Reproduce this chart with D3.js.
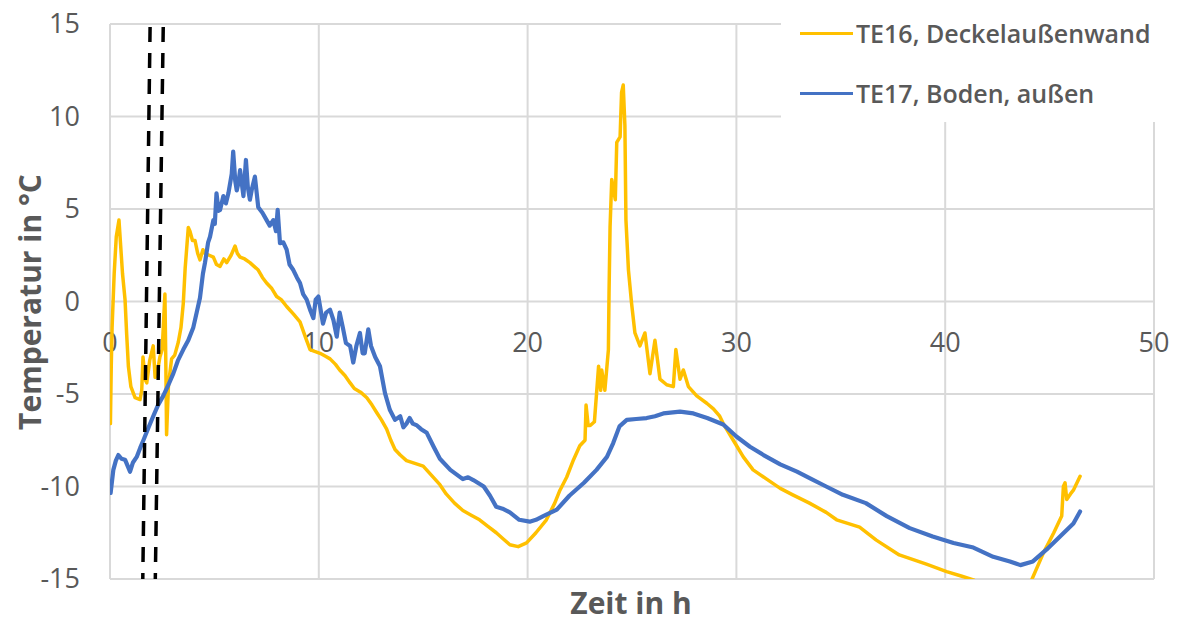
<!DOCTYPE html>
<html><head><meta charset="utf-8">
<script src="https://cdn.jsdelivr.net/npm/d3@7"></script>
<style>
html,body{margin:0;padding:0;background:#fff;}
svg{display:block;font-family:"Open Sans",sans-serif;}
</style></head>
<body><svg id="chart" width="1178" height="622"></svg>
<script>
// ---- data ----
const xTicks = [0, 10, 20, 30, 40, 50];
const yTicks = [-15, -10, -5, 0, 5, 10, 15];
const seriesNames = ["TE16, Deckelaußenwand", "TE17, Boden, außen"];

const te16Time = [0.02,0.06,0.1,0.2,0.3,0.43,0.5,0.6,0.72,0.8,0.88,1.0,1.2,1.44,1.52,1.58,1.68,1.76,1.9,2.07,2.16,2.3,2.39,2.5,2.63,2.67,2.71,2.8,2.95,3.1,3.27,3.4,3.51,3.6,3.75,3.83,3.95,4.07,4.2,4.31,4.45,4.55,4.75,4.95,5.1,5.27,5.45,5.59,5.8,5.99,6.1,6.23,6.45,6.7,6.9,7.1,7.3,7.5,7.75,7.98,8.2,8.46,8.8,9.1,9.35,9.58,9.8,10.06,10.3,10.54,10.8,11.0,11.25,11.5,11.7,12.0,12.3,12.55,12.77,13.0,13.25,13.45,13.65,13.9,14.2,14.6,15.0,15.4,15.8,16.1,16.5,16.9,17.3,17.7,18.1,18.5,18.85,19.15,19.55,19.95,20.4,20.9,21.3,21.55,21.87,22.2,22.5,22.75,22.8,22.9,23.0,23.2,23.3,23.4,23.5,23.55,23.7,23.87,23.9,23.95,24.03,24.2,24.27,24.43,24.5,24.58,24.66,24.71,24.83,24.98,25.14,25.38,25.62,25.86,26.1,26.34,26.66,26.98,27.1,27.3,27.46,27.7,28.1,28.58,28.9,29.2,29.37,29.85,30.33,30.8,31.45,32.1,32.7,33.5,34.3,34.8,35.9,36.7,37.8,39.1,40.07,40.8,41.35,42.0,42.8,43.5,44.14,44.7,45.2,45.58,45.66,45.74,45.82,46.0,46.14,46.46];
const te16Temp = [-6.6,-3.5,-1.4,1.5,3.5,4.4,3.2,1.5,0.1,-1.8,-3.5,-4.6,-5.2,-5.3,-4.8,-3.0,-4.2,-4.4,-3.2,-2.4,-4.1,-3.6,-3.0,-2.6,0.4,-3.0,-7.2,-4.5,-3.1,-2.9,-2.2,-1.4,-0.1,1.8,4.0,3.8,3.3,3.3,2.6,2.25,2.8,2.6,2.5,2.4,2.0,1.9,2.3,2.1,2.5,3.0,2.6,2.4,2.3,2.1,1.9,1.7,1.3,1.0,0.7,0.27,0.1,-0.27,-0.7,-1.1,-1.9,-2.6,-2.7,-2.8,-2.95,-3.1,-3.4,-3.7,-4.0,-4.4,-4.7,-4.9,-5.2,-5.6,-6.0,-6.4,-6.9,-7.5,-8.0,-8.3,-8.6,-8.75,-8.9,-9.4,-9.9,-10.4,-10.9,-11.3,-11.55,-11.8,-12.15,-12.5,-12.85,-13.15,-13.25,-13.05,-12.5,-11.8,-10.9,-10.2,-9.5,-8.55,-7.8,-7.5,-5.6,-6.7,-6.7,-6.5,-5.0,-3.5,-4.8,-3.7,-4.8,-2.6,0.45,4.05,6.6,5.5,8.6,8.9,11.3,11.7,9.5,4.4,1.7,-0.1,-1.7,-2.4,-1.7,-3.9,-2.1,-4.2,-4.5,-4.6,-2.6,-4.2,-3.7,-4.6,-5.1,-5.5,-5.8,-6.2,-6.6,-7.5,-8.4,-9.1,-9.6,-10.1,-10.45,-10.9,-11.4,-11.8,-12.2,-12.9,-13.7,-14.2,-14.6,-14.85,-15.05,-15.4,-15.7,-15.6,-15.05,-13.6,-12.5,-11.6,-10.0,-9.8,-10.7,-10.4,-10.2,-9.45];

const te17Time = [0.03,0.16,0.28,0.4,0.55,0.72,0.85,0.96,1.1,1.28,1.45,1.6,1.85,2.07,2.3,2.55,2.8,3.03,3.25,3.51,3.75,3.99,4.15,4.31,4.45,4.55,4.7,4.79,4.95,5.02,5.1,5.2,5.27,5.43,5.55,5.67,5.83,5.9,6.0,6.07,6.15,6.23,6.39,6.51,6.6,6.7,6.8,6.94,7.1,7.3,7.5,7.65,7.82,7.95,8.03,8.14,8.3,8.46,8.6,8.78,8.95,9.1,9.25,9.42,9.6,9.74,9.85,9.98,10.2,10.35,10.54,10.7,10.86,11.0,11.15,11.3,11.5,11.65,11.8,11.97,12.1,12.2,12.37,12.5,12.7,12.93,13.17,13.4,13.65,13.9,14.05,14.2,14.35,14.5,14.7,14.9,15.17,15.5,15.8,16.3,16.9,17.15,17.4,17.9,18.2,18.5,18.8,19.15,19.6,20.1,20.4,20.75,21.4,22.0,22.7,23.3,23.8,24.1,24.4,24.75,25.2,25.7,26.1,26.5,27.3,27.94,28.6,29.37,30.0,30.65,31.3,32.1,32.9,33.6,34.3,35.1,36.2,37.2,38.3,39.4,40.4,41.35,42.3,43.1,43.6,44.2,44.86,45.5,46.14,46.46];
const te17Temp = [-10.35,-9.1,-8.6,-8.3,-8.5,-8.55,-8.9,-9.2,-8.7,-8.4,-7.9,-7.5,-6.8,-6.2,-5.6,-5.1,-4.5,-3.9,-3.2,-2.6,-2.1,-1.4,-0.6,0.2,1.5,2.1,3.2,3.5,4.4,4.2,5.85,4.9,4.95,5.7,5.3,5.85,6.9,8.1,6.5,6.0,6.4,7.1,5.7,7.65,6.2,5.5,6.1,6.75,5.1,4.8,4.4,4.1,4.4,3.8,4.95,3.15,3.2,2.8,2.0,1.7,1.3,1.0,0.4,0.1,-0.5,-0.9,0.1,0.27,-1.2,-0.6,-0.45,-1.0,-1.9,-0.6,-1.4,-2.25,-2.4,-3.3,-2.4,-1.7,-2.8,-2.8,-1.5,-2.4,-3.0,-3.5,-4.95,-5.85,-6.4,-6.2,-6.8,-6.6,-6.3,-6.6,-6.7,-6.9,-7.1,-7.85,-8.5,-9.1,-9.6,-9.5,-9.65,-10.0,-10.5,-11.1,-11.2,-11.4,-11.8,-11.9,-11.8,-11.6,-11.25,-10.5,-9.8,-9.1,-8.4,-7.65,-6.75,-6.4,-6.35,-6.3,-6.2,-6.05,-5.95,-6.05,-6.3,-6.65,-7.3,-7.85,-8.3,-8.8,-9.2,-9.6,-10.0,-10.45,-10.9,-11.6,-12.25,-12.7,-13.05,-13.3,-13.8,-14.05,-14.25,-14.05,-13.4,-12.7,-12.0,-11.35];

// vertical dashed marker lines: [time at top (15 °C), time at bottom (-15 °C)]
const markerTop = [1.92, 2.55];
const markerBottom = [1.57, 2.17];

// ---- drawing ----
const svg = d3.select("#chart");
const plot = {left: 110, right: 1154, top: 24, bottom: 579};
const x = d3.scaleLinear().domain([0, 50]).range([plot.left, plot.right]);
const y = d3.scaleLinear().domain([-15, 15]).range([plot.bottom, plot.top]);
const grid = "#d9d9d9", txt = "#595959";
const colors = ["#FFC000", "#4472C4"];
const widths = [3.5, 4.2];

svg.append("defs").append("clipPath").attr("id", "clip")
  .append("rect").attr("x", plot.left).attr("y", plot.top)
  .attr("width", plot.right - plot.left).attr("height", plot.bottom - plot.top);

// gridlines
svg.append("g").selectAll("line").data(yTicks).join("line")
  .attr("x1", plot.left).attr("x2", plot.right)
  .attr("y1", d => y(d)).attr("y2", d => y(d))
  .attr("stroke", grid).attr("stroke-width", 2);
svg.append("g").selectAll("line").data(xTicks).join("line")
  .attr("x1", d => x(d)).attr("x2", d => x(d))
  .attr("y1", plot.top).attr("y2", plot.bottom)
  .attr("stroke", grid).attr("stroke-width", 2);

// y tick labels
svg.append("g").selectAll("text").data(yTicks).join("text")
  .attr("x", 80).attr("y", d => y(d)).attr("dy", "0.35em")
  .attr("text-anchor", "end").attr("font-size", 27).attr("fill", txt)
  .text(d => d);
// x tick labels (axis crosses at 0)
svg.append("g").selectAll("text").data(xTicks).join("text")
  .attr("x", d => x(d)).attr("y", 343).attr("dy", "0.35em")
  .attr("text-anchor", "middle").attr("font-size", 27).attr("fill", txt)
  .text(d => d);

// series
const series = [
  {name: seriesNames[0], pts: te16Time.map((t, i) => [t, te16Temp[i]]), color: colors[0], w: widths[0]},
  {name: seriesNames[1], pts: te17Time.map((t, i) => [t, te17Temp[i]]), color: colors[1], w: widths[1]}
];
const line = d3.line().x(d => x(d[0])).y(d => y(d[1]));
const lg = svg.append("g").attr("clip-path", "url(#clip)");
series.forEach(s => {
  lg.append("path").attr("d", line(s.pts)).attr("fill", "none")
    .attr("stroke", s.color).attr("stroke-width", s.w)
    .attr("stroke-linejoin", "round").attr("stroke-linecap", "round");
});

// dashed markers
svg.append("g").selectAll("line").data(markerTop).join("line")
  .attr("x1", d => x(d)).attr("y1", y(15) + 3)
  .attr("x2", (d, i) => x(markerBottom[i])).attr("y2", y(-15))
  .attr("stroke", "#000").attr("stroke-width", 3.5)
  .attr("stroke-dasharray", "15,11");

// legend
svg.append("rect").attr("x", 781).attr("y", 0).attr("width", 397).attr("height", 122).attr("fill", "#fff");
const leg = svg.append("g").selectAll("g").data(series).join("g")
  .attr("transform", (d, i) => `translate(0,${33.5 + i * 60})`);
leg.append("line").attr("x1", 800).attr("x2", 853).attr("y1", 0).attr("y2", 0)
  .attr("stroke", d => d.color).attr("stroke-width", 3);
leg.append("text").attr("x", 856).attr("y", 0).attr("dy", "0.36em")
  .attr("font-size", 25).attr("font-weight", 600).attr("fill", txt).text(d => d.name);

// axis titles
svg.append("text").attr("transform", "translate(30,302) rotate(-90)")
  .attr("text-anchor", "middle").attr("dy", "0.35em")
  .attr("font-size", 30).attr("font-weight", "bold").attr("fill", txt)
  .text("Temperatur in °C");
svg.append("text").attr("x", 631).attr("y", 614)
  .attr("text-anchor", "middle")
  .attr("font-size", 30).attr("font-weight", "bold").attr("fill", txt)
  .text("Zeit in h");
</script></body></html>
